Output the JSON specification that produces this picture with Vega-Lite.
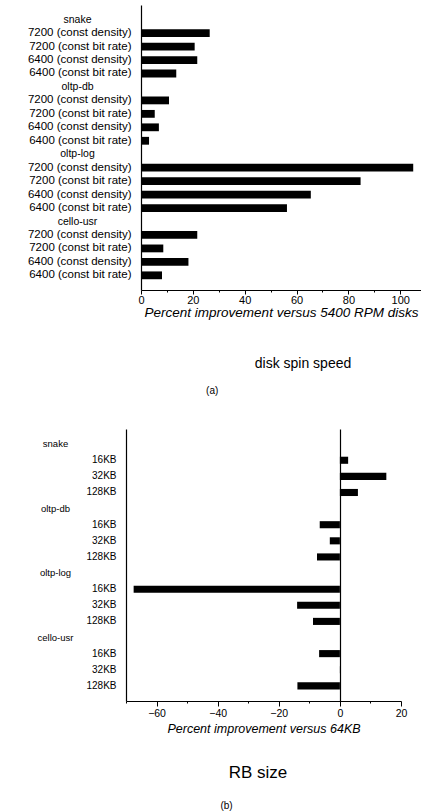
{
  "$schema": "https://vega.github.io/schema/vega-lite/v6.json",
  "padding": {"left": 27, "top": 5, "right": 0, "bottom": 0},
  "config": {
    "font": "Liberation Sans",
    "view": {"stroke": null},
    "axis": {"domainColor": "black", "tickColor": "black", "labelColor": "black", "titleColor": "black", "grid": false, "domainWidth": 1.2, "tickWidth": 1, "labelFlush": false},
    "title": {"color": "black", "subtitleColor": "black"}
  },
  "datasets": {
    "disk": [
      {"row": "snake|7200 (const density)", "pct": 26.5},
      {"row": "snake|7200 (const bit rate)", "pct": 20.7},
      {"row": "snake|6400 (const density)", "pct": 21.7},
      {"row": "snake|6400 (const bit rate)", "pct": 13.6},
      {"row": "oltp-db|7200 (const density)", "pct": 10.8},
      {"row": "oltp-db|7200 (const bit rate)", "pct": 5.3},
      {"row": "oltp-db|6400 (const density)", "pct": 6.9},
      {"row": "oltp-db|6400 (const bit rate)", "pct": 3.1},
      {"row": "oltp-log|7200 (const density)", "pct": 105.0},
      {"row": "oltp-log|7200 (const bit rate)", "pct": 84.7},
      {"row": "oltp-log|6400 (const density)", "pct": 65.5},
      {"row": "oltp-log|6400 (const bit rate)", "pct": 56.3},
      {"row": "cello-usr|7200 (const density)", "pct": 21.7},
      {"row": "cello-usr|7200 (const bit rate)", "pct": 8.6},
      {"row": "cello-usr|6400 (const density)", "pct": 18.3},
      {"row": "cello-usr|6400 (const bit rate)", "pct": 8.1}
    ],
    "rb": [
      {"row": "snake|16KB", "pct": 2.7},
      {"row": "snake|32KB", "pct": 15.2},
      {"row": "snake|128KB", "pct": 5.9},
      {"row": "oltp-db|16KB", "pct": -6.6},
      {"row": "oltp-db|32KB", "pct": -3.3},
      {"row": "oltp-db|128KB", "pct": -7.5},
      {"row": "oltp-log|16KB", "pct": -67.5},
      {"row": "oltp-log|32KB", "pct": -14.0},
      {"row": "oltp-log|128KB", "pct": -8.8},
      {"row": "cello-usr|16KB", "pct": -6.8},
      {"row": "cello-usr|32KB", "pct": 0.3},
      {"row": "cello-usr|128KB", "pct": -13.9}
    ]
  },
  "spacing": 33,
  "vconcat": [
    {
      "title": {"text": "(a)", "orient": "bottom", "fontSize": 10, "fontWeight": "normal", "anchor": "middle", "offset": 15, "dx": -12},
      "vconcat": [
        {
          "data": {"name": "disk"},
          "width": 280,
          "height": 285,
          "title": {"text": "disk spin speed", "orient": "bottom", "fontSize": 14, "fontWeight": "normal", "anchor": "middle", "frame": "group", "dx": 22, "offset": 38},
          "resolve": {"axis": {"y": "independent"}},
          "layer": [
            {
              "mark": {"type": "bar", "color": "black"},
              "encoding": {
                "y": {
                  "field": "row", "type": "nominal",
                  "scale": {
                    "domain": ["snake", "snake|7200 (const density)", "snake|7200 (const bit rate)", "snake|6400 (const density)", "snake|6400 (const bit rate)",
                               "oltp-db", "oltp-db|7200 (const density)", "oltp-db|7200 (const bit rate)", "oltp-db|6400 (const density)", "oltp-db|6400 (const bit rate)",
                               "oltp-log", "oltp-log|7200 (const density)", "oltp-log|7200 (const bit rate)", "oltp-log|6400 (const density)", "oltp-log|6400 (const bit rate)",
                               "cello-usr", "cello-usr|7200 (const density)", "cello-usr|7200 (const bit rate)", "cello-usr|6400 (const density)", "cello-usr|6400 (const bit rate)"],
                    "paddingInner": 0.42, "paddingOuter": 0.8
                  },
                  "axis": {
                    "orient": "left", "title": null, "ticks": false, "tickSize": 0, "labelPadding": 10, "labelLimit": 500, "labelOverlap": false, "labelBound": false,
                    "labelFontSize": 11.5, "labelAlign": "right",
                    "labelExpr": "indexof(datum.value, '|') < 0 ? '' : slice(datum.value, indexof(datum.value, '|') + 1)"
                  }
                },
                "x": {
                  "field": "pct", "type": "quantitative",
                  "scale": {"domain": [0, 108], "nice": false, "zero": true},
                  "axis": {
                    "title": "Percent improvement versus 5400 RPM disks",
                    "titleFontStyle": "italic", "titleFontWeight": "normal", "titleFontSize": 13.5, "titlePadding": 0,
                    "values": [0, 10, 20, 30, 40, 50, 60, 70, 80, 90, 100],
                    "labelExpr": "datum.value % 20 == 0 ? datum.label : ''",
                    "labelFontSize": 11, "labelPadding": 0, "labelOverlap": false,
                    "tickSize": {"condition": {"test": "datum.value % 20 == 0", "value": 4}, "value": 2}
                  }
                }
              }
            },
            {
              "mark": {"type": "rule", "opacity": 0},
              "encoding": {
                "y": {
                  "field": "row", "type": "nominal",
                  "axis": {
                    "orient": "left", "title": null, "domain": false, "ticks": false, "tickSize": 0, "offset": 64, "labelPadding": 0, "labelLimit": 500, "labelOverlap": false, "labelBound": false,
                    "labelFontSize": 10.5, "labelAlign": "center",
                    "labelExpr": "indexof(datum.value, '|') < 0 ? datum.value : ''"
                  }
                }
              }
            }
          ]
        }
      ]
    },
    {
      "title": {"text": "(b)", "orient": "bottom", "fontSize": 10, "fontWeight": "normal", "anchor": "middle", "offset": 20, "dx": 0},
      "vconcat": [
        {
          "data": {"name": "rb"},
          "width": 260,
          "height": 272,
          "title": {"text": "RB size", "orient": "bottom", "fontSize": 17, "fontWeight": "normal", "anchor": "middle", "frame": "group", "dx": -13, "offset": 30},
          "resolve": {"axis": {"y": "independent"}},
          "layer": [
            {
              "mark": {"type": "bar", "color": "black"},
              "encoding": {
                "y": {
                  "field": "row", "type": "nominal",
                  "scale": {
                    "domain": ["snake", "snake|16KB", "snake|32KB", "snake|128KB",
                               "oltp-db", "oltp-db|16KB", "oltp-db|32KB", "oltp-db|128KB",
                               "oltp-log", "oltp-log|16KB", "oltp-log|32KB", "oltp-log|128KB",
                               "cello-usr", "cello-usr|16KB", "cello-usr|32KB", "cello-usr|128KB"],
                    "paddingInner": 0.56, "paddingOuter": 0.72
                  },
                  "axis": {
                    "orient": "left", "title": null, "ticks": false, "tickSize": 0, "offset": 15, "labelPadding": 10, "labelLimit": 500, "labelOverlap": false, "labelBound": false,
                    "labelFontSize": 10, "labelAlign": "right",
                    "labelExpr": "indexof(datum.value, '|') < 0 ? '' : slice(datum.value, indexof(datum.value, '|') + 1)"
                  }
                },
                "x": {
                  "field": "pct", "type": "quantitative",
                  "scale": {"domain": [-70, 20], "range": [-15, 260], "nice": false, "zero": false},
                  "axis": {
                    "title": "Percent improvement versus 64KB",
                    "titleFontStyle": "italic", "titleFontWeight": "normal", "titleFontSize": 12.5, "titlePadding": 4,
                    "values": [-70, -60, -50, -40, -30, -20, -10, 0, 10, 20],
                    "labelExpr": "datum.value % 20 == 0 ? datum.label : ''",
                    "labelFontSize": 10.5, "labelPadding": 2, "labelOverlap": false,
                    "tickSize": {"condition": {"test": "datum.value % 20 == 0", "value": 5}, "value": 2},
                    "grid": true, "gridColor": "black", "gridWidth": 1.2,
                    "gridOpacity": {"condition": {"test": "datum.value == 0", "value": 1}, "value": 0}
                  }
                }
              }
            },
            {
              "mark": {"type": "rule", "opacity": 0},
              "encoding": {
                "y": {
                  "field": "row", "type": "nominal",
                  "axis": {
                    "orient": "left", "title": null, "domain": false, "ticks": false, "tickSize": 0, "offset": 86, "labelPadding": 0, "labelLimit": 500, "labelOverlap": false, "labelBound": false,
                    "labelFontSize": 9.5, "labelAlign": "center",
                    "labelExpr": "indexof(datum.value, '|') < 0 ? datum.value : ''"
                  }
                }
              }
            }
          ]
        }
      ]
    }
  ]
}
